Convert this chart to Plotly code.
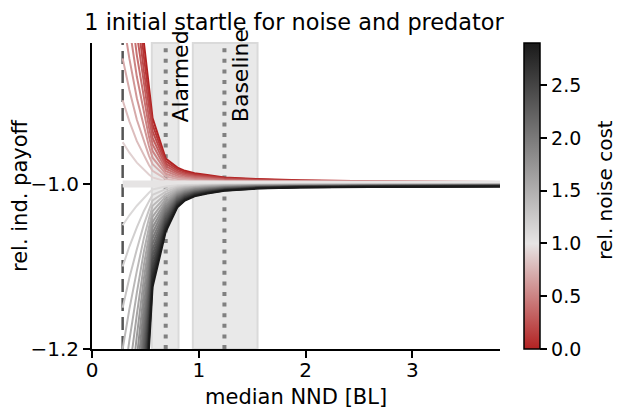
import plotly.graph_objects as go
from plotly.colors import sample_colorscale

# ---------------- data ----------------
nnd = [0.287, 0.35, 0.42, 0.486, 0.533, 0.567, 0.69, 0.80, 0.87, 0.96,
       1.08, 1.24, 1.55, 1.95, 2.6, 3.2, 3.82]
# payoff of the cheapest-noise curve (cost 0) and the most expensive (cost 2.9)
payoff_cost_min = [-0.492, -0.62, -0.74, -0.829, -0.885, -0.920, -0.969, -0.980,
                   -0.984, -0.987, -0.989, -0.992, -0.994, -0.9955, -0.9965,
                   -0.997, -0.9975]
payoff_cost_max = [-1.95, -1.72, -1.50, -1.31, -1.20, -1.125, -1.058, -1.028,
                   -1.020, -1.0148, -1.0115, -1.0082, -1.0055, -1.0042,
                   -1.0036, -1.0033, -1.003]
noise_costs = [0.0, 0.1, 0.2, 0.3, 0.4, 0.5, 0.6, 0.7, 0.8, 0.9,
               1.0, 1.1, 1.2, 1.3, 1.4, 1.5, 1.6, 1.7, 1.8, 1.9,
               2.0, 2.1, 2.2, 2.3, 2.4, 2.5, 2.6, 2.7, 2.8, 2.9]
neutral_payoff = -1.0
min_nnd = 0.287
alarmed_nnd = 0.69
baseline_nnd = 1.24
alarmed_span = [0.56, 0.81]
baseline_span = [0.944, 1.55]
cbar_ticks = [0.0, 0.5, 1.0, 1.5, 2.0, 2.5]

cmin, cmax = 0.0, 2.9
colorscale = [[0.0, "#b22222"], [1.0 / 2.9, "#e6e4e4"], [1.0, "#1a1a1a"]]
FONT = "DejaVu Sans"

fig = go.Figure()

for c in noise_costs:
    if c <= 1.0:
        w = (1.0 - c)
        ys = [neutral_payoff + w * (p - neutral_payoff) for p in payoff_cost_min]
    else:
        w = (c - 1.0) / (cmax - 1.0)
        ys = [neutral_payoff + w * (p - neutral_payoff) for p in payoff_cost_max]
    col = sample_colorscale(colorscale, [(c - cmin) / (cmax - cmin)])[0]
    width = 7 if abs(c - 1.0) < 1e-9 else 2
    fig.add_trace(go.Scatter(x=nnd, y=ys, mode="lines",
                             line=dict(color=col, width=width),
                             showlegend=False, hoverinfo="skip"))

# colorbar carrier
fig.add_trace(go.Scatter(
    x=[nnd[-1]], y=[neutral_payoff], mode="markers",
    marker=dict(size=0.1, opacity=0, color=[0], colorscale=colorscale,
                cmin=cmin, cmax=cmax, showscale=True,
                colorbar=dict(thickness=16, thicknessmode="pixels",
                              len=1.0, lenmode="fraction",
                              x=1.0588, xanchor="left", xpad=0,
                              y=1.0, yanchor="top", ypad=0,
                              outlinewidth=1.5, outlinecolor="black",
                              ticks="outside", ticklen=7, tickwidth=1.5,
                              tickcolor="black",
                              tickvals=cbar_ticks,
                              ticktext=[f"{t:.1f}" for t in cbar_ticks],
                              tickfont=dict(family=FONT, size=19, color="black"))),
    showlegend=False, hoverinfo="skip"))

shapes = []
for span in (alarmed_span, baseline_span):
    shapes.append(dict(type="rect", xref="x", yref="paper", x0=span[0], x1=span[1],
                       y0=0, y1=1, fillcolor="#e9e9e9",
                       line=dict(color="#dadada", width=2), layer="below"))
shapes.append(dict(type="line", xref="x", yref="paper", x0=min_nnd, x1=min_nnd,
                   y0=0, y1=1, line=dict(color="#555555", width=2.5, dash="13px,6px"),
                   layer="below"))
for xv in (alarmed_nnd, baseline_nnd):
    shapes.append(dict(type="line", xref="x", yref="paper", x0=xv, x1=xv,
                       y0=0, y1=1, line=dict(color="#808080", width=4, dash="4px,6.6px"),
                       layer="below"))

annotations = [
    dict(text="Alarmed", x=0.833, y=-0.928, xref="x", yref="y", xanchor="center",
         yanchor="bottom", textangle=-90, showarrow=False,
         font=dict(family=FONT, size=22, color="black")),
    dict(text="Baseline", x=1.386, y=-0.928, xref="x", yref="y", xanchor="center",
         yanchor="bottom", textangle=-90, showarrow=False,
         font=dict(family=FONT, size=22, color="black")),
    dict(text="median NND [BL]", x=0.499, y=0, xref="paper", yref="paper",
         xanchor="center", yanchor="middle", yshift=-48, showarrow=False,
         font=dict(family=FONT, size=21, color="black")),
    dict(text="rel. ind. payoff", x=0, y=0.5, xref="paper", yref="paper",
         xanchor="center", yanchor="middle", xshift=-72, yshift=0, textangle=-90,
         showarrow=False, font=dict(family=FONT, size=21, color="black")),
    dict(text="rel. noise cost", x=1.257, y=0.52, xref="paper", yref="paper",
         xanchor="center", yanchor="middle", textangle=-90, showarrow=False,
         font=dict(family=FONT, size=20, color="black")),
]

fig.update_layout(
    width=619, height=413,
    margin=dict(l=92, r=119, t=43, b=64),
    plot_bgcolor="white", paper_bgcolor="white",
    shapes=shapes, annotations=annotations,
    title=dict(text="1 initial startle for noise and predator",
               x=294 / 619, xanchor="center", y=1 - 22 / 413, yanchor="middle",
               font=dict(family=FONT, size=22.4, color="black")),
    xaxis=dict(range=[0, 3.82], showgrid=False, zeroline=False, showline=True,
               linecolor="black", linewidth=2, ticks="outside", ticklen=7,
               tickwidth=1.5, tickcolor="black", tickvals=[0, 1, 2, 3],
               ticklabelstandoff=-5,
               tickfont=dict(family=FONT, size=20, color="black")),
    yaxis=dict(range=[-1.2, -0.829], showgrid=False, zeroline=False, showline=True,
               linecolor="black", linewidth=2, ticks="outside", ticklen=7,
               tickwidth=1.5, tickcolor="black", tickvals=[-1.2, -1.0],
               tickformat=".1f",
               tickfont=dict(family=FONT, size=20, color="black")),
)

fig.write_html("out.html")
